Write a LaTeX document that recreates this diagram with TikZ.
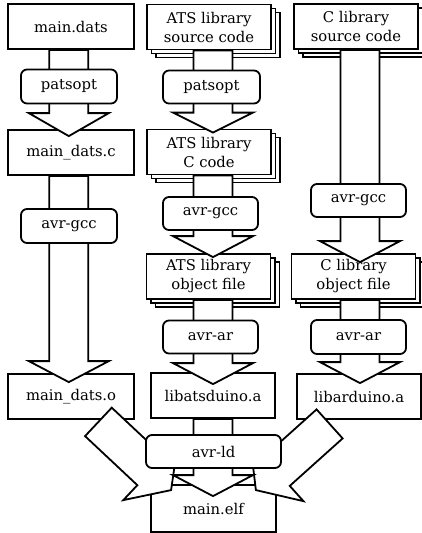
\documentclass[tikz,border=0pt]{standalone}
\usepackage{fontspec}
\setmainfont{DejaVu Serif}
\usetikzlibrary{calc,shadows}
\tikzset{
  lw/.style={line width=1.8pt},
  filebox/.style={draw, fill=white, lw, inner sep=0pt, minimum width=126pt, minimum height=45pt,
    align=center, font=\fontsize{14.8}{19}\selectfont},
  docstack/.style={filebox, minimum width=124pt,
    general shadow={shadow xshift=9pt, shadow yshift=-8pt, draw, fill=white, lw},
    general shadow={shadow xshift=4.5pt, shadow yshift=-4pt, draw, fill=white, lw}},
  toolbox/.style={draw, fill=white, lw, rounded corners=6pt, inner sep=0pt,
    minimum width=96pt, minimum height=34pt, font=\fontsize{14.8}{19}\selectfont},
  blockarr/.style={draw, fill=white, lw, line join=miter},
}
\newcommand{\blkarrow}[3][21pt]{%
  \coordinate (ba-s) at #2;
  \coordinate (ba-t) at #3;
  \coordinate (ba-h) at ($(ba-t)!#1!(ba-s)$);
  \draw[blockarr] ($(ba-s)!19.5pt!90:(ba-t)$) -- ($(ba-h)!19.5pt!-90:(ba-s)$)
    -- ($(ba-h)!40pt!-90:(ba-s)$) -- (ba-t) -- ($(ba-h)!40pt!90:(ba-s)$)
    -- ($(ba-h)!19.5pt!90:(ba-s)$) -- ($(ba-s)!19.5pt!-90:(ba-t)$) -- cycle;}
\begin{document}
\begin{tikzpicture}[x=1pt,y=1pt]
\useasboundingbox (0,0) rectangle (422,-533);
\coordinate (c1) at (68.8,0);
\coordinate (c2) at (213,0);
\coordinate (c3) at (360,0);
% file boxes
\node[filebox] (mdats)  at (71,-26.5)  {main.dats};
\node[filebox] (mdatsc) at (71,-152.5) {main\_dats.c};
\node[filebox] (mdatso) at (71,-396.5) {main\_dats.o};
\node[docstack] (atssrc) at (209,-27)  {ATS library\\source code};
\node[docstack] (atsc)   at (209,-152) {ATS library\\C code};
\node[docstack] (atsobj) at (208.5,-276.5) {ATS library\\object file};
\node[filebox, minimum width=124pt] (libats) at (213,-395.5) {libatsduino.a};
\node[docstack] (csrc) at (356,-26.5) {C library\\source code};
\node[docstack] (cobj) at (353.5,-276.5) {C library\\object file};
\node[filebox, minimum width=124pt] (libard) at (359,-396.5) {libarduino.a};
\node[filebox, minimum width=125pt, minimum height=47pt] (mainelf) at (213.5,-508.5) {main.elf};
% block arrows
\blkarrow[23pt]{(mdats.south -| c1)}{($(mdatsc.north -| c1)+(0,-7)$)}
\blkarrow{(mdatsc.south -| c1)}{($(mdatso.north -| c1)+(0,-9)$)}
\blkarrow[20pt]{(atssrc.south -| c2)}{($(atsc.north -| c2)+(0,-4)$)}
\blkarrow{(atsc.south -| c2)}{($(atsobj.north -| c2)+(0,-4)$)}
\blkarrow{(atsobj.south -| c2)}{($(libats.north -| c2)+(0,-12)$)}
\blkarrow{(csrc.south -| c3)}{($(cobj.north -| c3)+(0,-9)$)}
\blkarrow{(cobj.south -| c3)}{($(libard.north -| c3)+(0,-10)$)}
\blkarrow[28pt]{($(mdatso.south east)+(-36.5,-2)$)}{($(mainelf.north west)+(21,-6)$)}
\blkarrow[28pt]{($(libard.south west)+(33.5,-4)$)}{($(mainelf.north east)+(-21,-6)$)}
\blkarrow{(libats.south -| c2)}{($(mainelf.north -| c2)+(0,-12)$)}
% tool boxes
\node[toolbox] (pats1) at (69,-86.5) {patsopt};
\node[toolbox] (gcc1)  at (69,-226)  {avr-gcc};
\node[toolbox, minimum width=97pt, minimum height=33pt] (pats2) at (211.5,-87) {patsopt};
\node[toolbox, minimum width=95pt, minimum height=33pt] (gcc2)  at (210.5,-213.5) {avr-gcc};
\node[toolbox, minimum width=95pt, minimum height=33pt] (ar2)   at (210.5,-337) {avr-ar};
\node[toolbox, minimum width=95pt, minimum height=33pt] (gcc3)  at (358.5,-200.5) {avr-gcc};
\node[toolbox, minimum width=95pt, minimum height=34pt] (ar3)   at (358.5,-337) {avr-ar};
\node[toolbox, minimum width=135pt, minimum height=33pt] (ld)   at (213.5,-451.5) {avr-ld};
\end{tikzpicture}
\end{document}
